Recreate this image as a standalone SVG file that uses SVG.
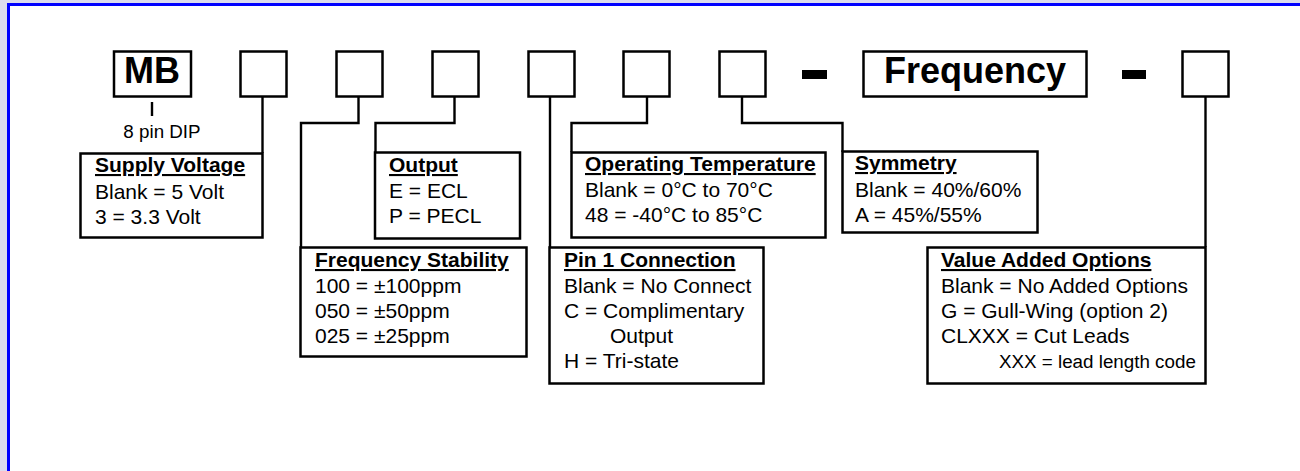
<svg xmlns="http://www.w3.org/2000/svg" width="1300" height="471" viewBox="0 0 1300 471">
<style>
.box{fill:#fff;stroke:#000;stroke-width:2.5}
.ln{fill:none;stroke:#000;stroke-width:2.4}
text{font-family:"Liberation Sans",Arial,sans-serif;fill:#000}
.t{font-size:21px}
.h{font-size:21px;font-weight:bold;text-decoration:underline}
.big{font-size:36px;font-weight:bold}
.s{font-size:18.8px}
</style>
<rect x="0" y="0" width="1300" height="471" fill="#dcdcee"/>
<rect x="8.5" y="4.5" width="1400" height="600" fill="#fff" stroke="#0000ff" stroke-width="3"/>

<g id="code-row">
<g id="mb"><rect class="box" x="114" y="51.5" width="77" height="45"/><text class="big" x="152" y="83" text-anchor="middle">MB</text></g>
<g id="slot1"><rect class="box" x="240.5" y="51.5" width="46" height="45"/></g>
<g id="slot2"><rect class="box" x="336.5" y="51.5" width="46" height="45"/></g>
<g id="slot3"><rect class="box" x="432.5" y="51.5" width="46" height="45"/></g>
<g id="slot4"><rect class="box" x="528.5" y="51.5" width="46" height="45"/></g>
<g id="slot5"><rect class="box" x="623.5" y="51.5" width="46" height="45"/></g>
<g id="slot6"><rect class="box" x="719.5" y="51.5" width="46" height="45"/></g>
<g id="dash1"><rect x="802" y="70" width="25" height="9" fill="#000"/></g>
<g id="frequency"><rect class="box" x="863.5" y="51.5" width="223" height="45"/><text class="big" x="975" y="83" text-anchor="middle">Frequency</text></g>
<g id="dash2"><rect x="1122" y="70" width="24" height="9" fill="#000"/></g>
<g id="slot7"><rect class="box" x="1182.5" y="51.5" width="46" height="45"/></g>
</g>

<g id="connectors">
<line class="ln" x1="152" y1="102" x2="152" y2="116" stroke-width="3"/>
<polyline class="ln" points="262.5,97 262.5,153"/>
<polyline class="ln" points="358.5,97 358.5,123 301,123 301,247"/>
<polyline class="ln" points="454.5,97 454.5,123 375.5,123 375.5,152"/>
<polyline class="ln" points="550,97 550,247"/>
<polyline class="ln" points="647,97 647,123 571.5,123 571.5,152"/>
<polyline class="ln" points="742,97 742,123 842.5,123 842.5,152"/>
<polyline class="ln" points="1205.5,97 1205.5,247"/>
</g>

<g id="dip-label"><text class="s" x="162" y="138" text-anchor="middle">8 pin DIP</text></g>

<g id="supply-voltage">
<rect class="box" x="80.5" y="153.5" width="182" height="84"/>
<text class="h" x="95" y="172">Supply Voltage</text>
<text class="t" x="95" y="199">Blank = 5 Volt</text>
<text class="t" x="95" y="224">3 = 3.3 Volt</text>
</g>

<g id="output">
<rect class="box" x="375" y="152.5" width="145" height="86"/>
<text class="h" x="389" y="172">Output</text>
<text class="t" x="389" y="197.5">E = ECL</text>
<text class="t" x="389" y="222.5">P = PECL</text>
</g>

<g id="frequency-stability">
<rect class="box" x="300.5" y="247.5" width="226" height="109"/>
<text class="h" x="315" y="267">Frequency Stability</text>
<text class="t" x="315" y="292.5">100 = ±100ppm</text>
<text class="t" x="315" y="317.5">050 = ±50ppm</text>
<text class="t" x="315" y="342.5">025 = ±25ppm</text>
</g>

<g id="operating-temperature">
<rect class="box" x="571.5" y="152.5" width="254" height="85"/>
<text class="h" x="585" y="171">Operating Temperature</text>
<text class="t" x="585" y="197">Blank = 0°C to 70°C</text>
<text class="t" x="585" y="222">48 = -40°C to 85°C</text>
</g>

<g id="pin1-connection">
<rect class="box" x="549.5" y="247.5" width="214" height="136"/>
<text class="h" x="564" y="267">Pin 1 Connection</text>
<text class="t" x="564" y="293">Blank = No Connect</text>
<text class="t" x="564" y="318">C = Complimentary</text>
<text class="t" x="610" y="343">Output</text>
<text class="t" x="564" y="368">H = Tri-state</text>
</g>

<g id="symmetry">
<rect class="box" x="842.5" y="151.5" width="195" height="81"/>
<text class="h" x="855" y="170">Symmetry</text>
<text class="t" x="855" y="196.5">Blank = 40%/60%</text>
<text class="t" x="855" y="221.5">A = 45%/55%</text>
</g>

<g id="value-added-options">
<rect class="box" x="927.5" y="247.5" width="278" height="136"/>
<text class="h" x="941" y="267">Value Added Options</text>
<text class="t" x="941" y="292.5">Blank = No Added Options</text>
<text class="t" x="941" y="317.5">G = Gull-Wing (option 2)</text>
<text class="t" x="941" y="343">CLXXX = Cut Leads</text>
<text class="s" x="999" y="367.5">XXX = lead length code</text>
</g>
</svg>
